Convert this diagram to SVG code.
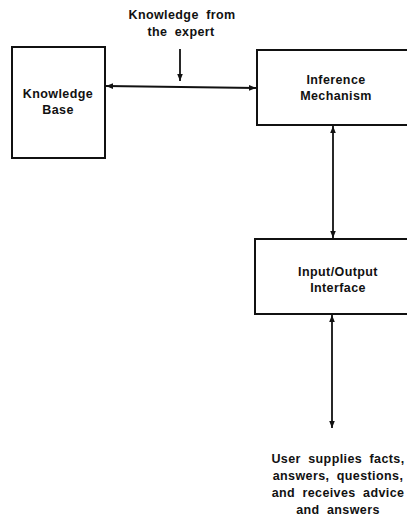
<svg xmlns="http://www.w3.org/2000/svg" width="407" height="520" viewBox="0 0 407 520">
<defs>
<marker id="ah" viewBox="0 0 10 10" refX="10" refY="5" markerWidth="7" markerHeight="7" markerUnits="userSpaceOnUse" orient="auto-start-reverse">
<path d="M0,1 L10,5 L0,9 Z" fill="#111"/>
</marker>
</defs>
<style>
.box{fill:#fff;stroke:#111;stroke-width:2}
.t{font-family:"Liberation Sans",Arial,sans-serif;font-size:12.5px;font-weight:bold;fill:#111;text-anchor:middle;word-spacing:3.5px;letter-spacing:0.4px}
.c{stroke:#111;stroke-width:1.8;fill:none}
</style>
<rect width="407" height="520" fill="#fff"/>
<g id="kb">
<rect class="box" x="12" y="47" width="93" height="111"/>
<text class="t" x="58" y="98">Knowledge</text>
<text class="t" x="58" y="114">Base</text>
</g>
<g id="im">
<rect class="box" x="257" y="50" width="160" height="75"/>
<text class="t" x="336" y="84">Inference</text>
<text class="t" x="336" y="100">Mechanism</text>
</g>
<g id="io">
<rect class="box" x="255" y="239" width="162" height="75"/>
<text class="t" x="338" y="276">Input/Output</text>
<text class="t" x="338" y="292">Interface</text>
</g>
<g id="expert">
<text class="t" x="182" y="19">Knowledge from</text>
<text class="t" x="181" y="36">the expert</text>
</g>
<g id="user">
<text class="t" x="338" y="463">User supplies facts,</text>
<text class="t" x="338" y="480">answers, questions,</text>
<text class="t" x="338" y="497">and receives advice</text>
<text class="t" x="338" y="514">and answers</text>
</g>
<g id="connectors">
<line class="c" x1="106" y1="86" x2="256" y2="88" marker-start="url(#ah)" marker-end="url(#ah)"/>
<line class="c" x1="180" y1="49" x2="180" y2="81" marker-end="url(#ah)"/>
<line class="c" x1="333" y1="126" x2="333" y2="238" marker-start="url(#ah)" marker-end="url(#ah)"/>
<line class="c" x1="332" y1="315" x2="332" y2="428" marker-start="url(#ah)" marker-end="url(#ah)"/>
</g>
</svg>
